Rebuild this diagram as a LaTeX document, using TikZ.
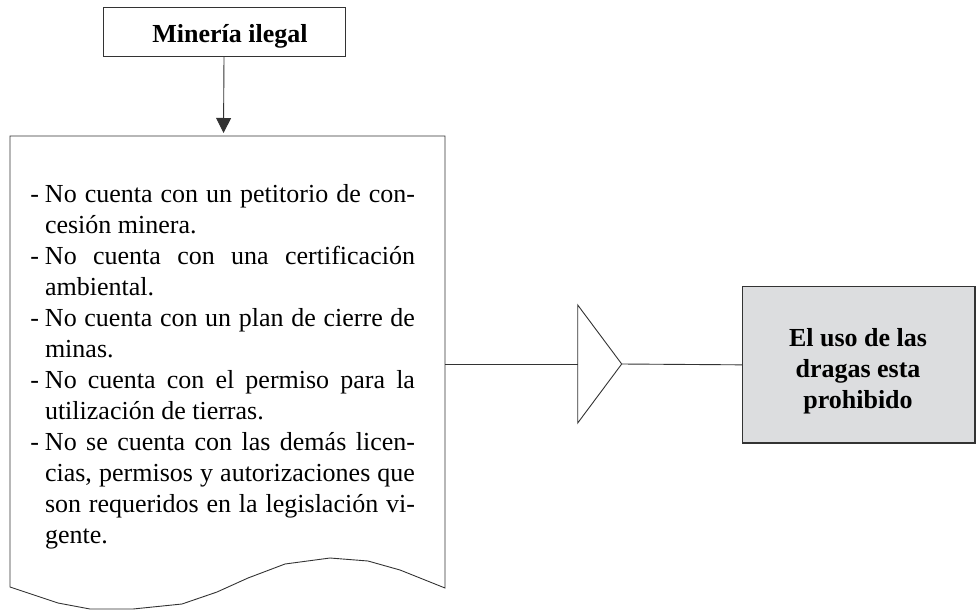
\documentclass[tikz,border=0pt]{standalone}
\usepackage{fontspec}
\setmainfont{Liberation Serif}
\usetikzlibrary{arrows.meta}
\definecolor{ln}{HTML}{333333}
\definecolor{boxfill}{HTML}{DCDDDF}
\newcommand{\justline}[1]{\hbox to 370pt{#1}}
\newcommand{\dashmark}{\llap{-\hspace{6pt}}}
\begin{document}
\begin{tikzpicture}[x=1pt,y=-1pt,
  every node/.style={inner sep=0pt, outer sep=0pt},
  edge/.style={draw=ln, line width=0.9pt},
  frame/.style={draw=ln, line width=1pt, rectangle},
  txtline/.style={anchor=base west, font=\fontsize{26}{31}\selectfont, text=black},
  btext/.style={font=\fontsize{26}{31}\selectfont\bfseries, align=center, text=black}]
\useasboundingbox (0,0) rectangle (976,610);

% top box
\node[frame, minimum width=242pt, minimum height=49pt] (top) at (224,32.5) {};
\node[btext] (toptext) at (230,36.5) {Minería ilegal};
\coordinate (arrowend) at (223.5,133);
\draw[edge, -{Triangle[length=15pt,width=15pt]}] (top.south) -- (arrowend);

% document shape
\draw[edge] (10,136) -- (445,136) -- (445,588) -- (400,570) -- (368,561) -- (330,558)
  -- (285,564) -- (248,578) -- (217,592) -- (182,604) -- (133,609) -- (90,609)
  -- (58,603) -- (10,587) -- cycle;

% document text
\node[txtline] (l1)  at (45,202.7) {\justline{\dashmark No cuenta con un petitorio de con-}};
\node[txtline] (l2)  at (45,233.7) {cesión minera.};
\node[txtline] (l3)  at (45,264.7) {\justline{\dashmark No cuenta con una certificación}};
\node[txtline] (l4)  at (45,295.7) {ambiental.};
\node[txtline] (l5)  at (45,326.7) {\justline{\dashmark No cuenta con un plan de cierre de}};
\node[txtline] (l6)  at (45,357.7) {minas.};
\node[txtline] (l7)  at (45,388.7) {\justline{\dashmark No cuenta con el permiso para la}};
\node[txtline] (l8)  at (45,419.7) {utilización de tierras.};
\node[txtline] (l9)  at (45,450.7) {\justline{\dashmark No se cuenta con las demás licen-}};
\node[txtline] (l10) at (45,481.7) {\justline{cias, permisos y autorizaciones que}};
\node[txtline] (l11) at (45,512.7) {\justline{son requeridos en la legislación vi-}};
\node[txtline] (l12) at (45,543.7) {gente.};

% triangle and connectors
\coordinate (docR) at (445,364);
\coordinate (triL) at (577.7,364);
\coordinate (triT) at (577.7,305);
\coordinate (triB) at (577.7,423);
\coordinate (triTip) at (621.7,364);
\draw[edge] (docR) -- (triL);
\draw[edge, line join=miter] (triT) -- (triTip) -- (triB) -- cycle;

% result box
\node[frame, fill=boxfill, line width=1.3pt, minimum width=232.3pt, minimum height=156.3pt] (res) at (858.85,364.85) {};
\node[btext] (restext) at (858,371) {El uso de las\\dragas esta\\prohibido};
\draw[edge] (triTip) -- (res.west);
\end{tikzpicture}
\end{document}
